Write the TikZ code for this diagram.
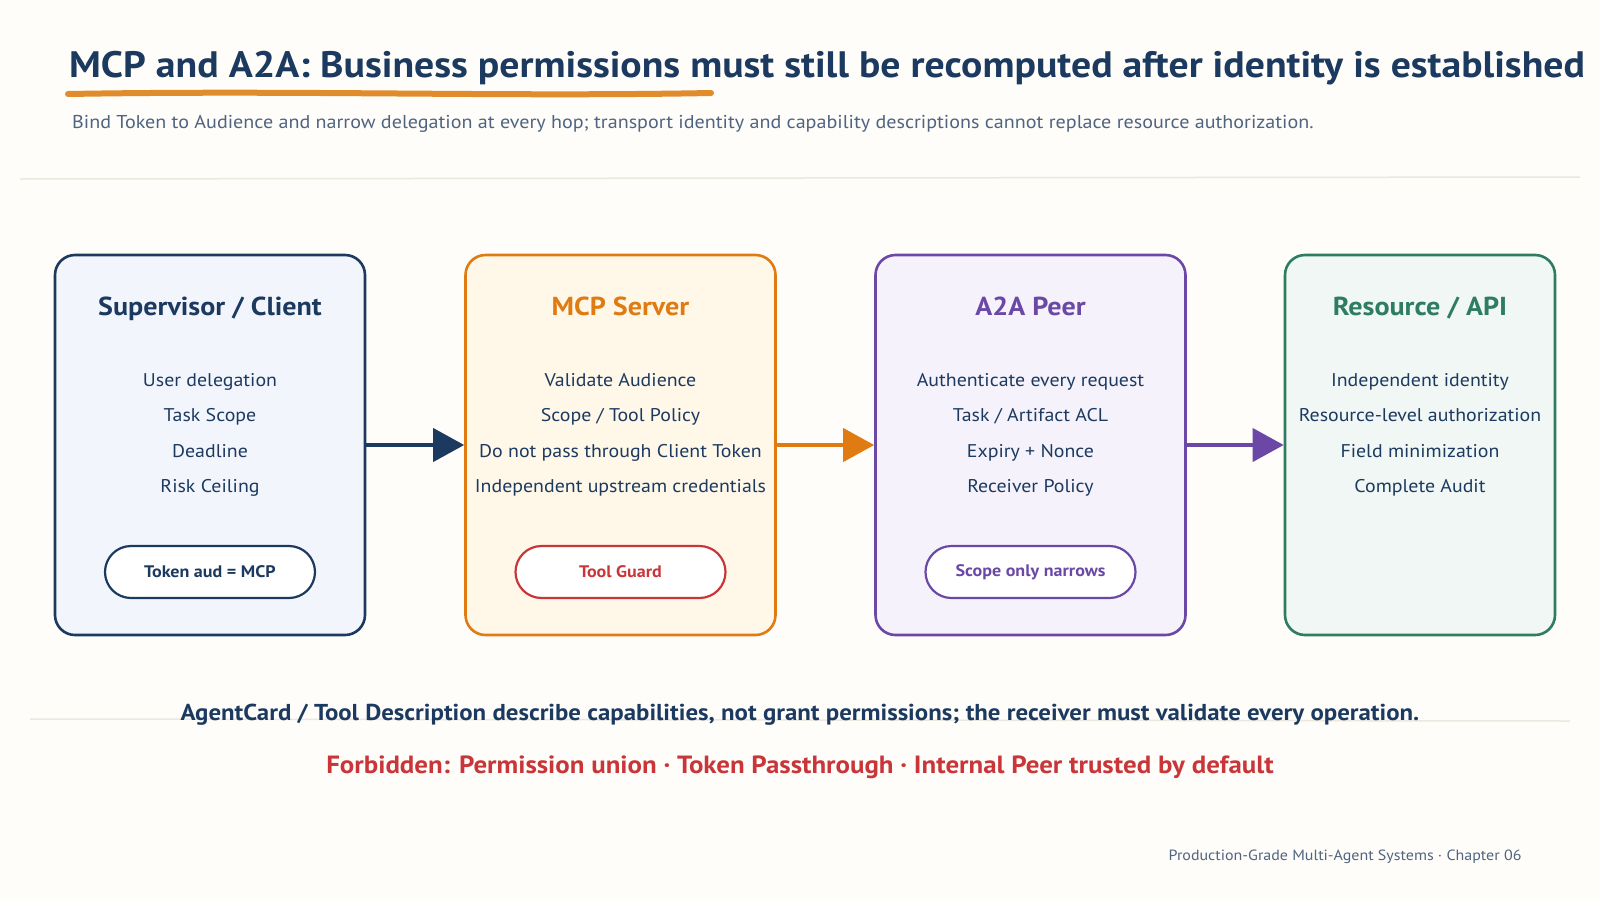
\documentclass[tikz,border=0pt]{standalone}
\usepackage{fontspec}
\setmainfont[FakeStretch=1.08]{PT Sans}
\usetikzlibrary{arrows.meta}
\definecolor{bg}{HTML}{FFFDF9}
\definecolor{navy}{HTML}{1C3A60}
\definecolor{sub}{HTML}{4F6480}
\definecolor{orng}{HTML}{E07B12}
\definecolor{ulin}{HTML}{E08C2C}
\definecolor{purp}{HTML}{6B48A6}
\definecolor{grn}{HTML}{2E7C62}
\definecolor{redc}{HTML}{C9363A}
\definecolor{fblue}{HTML}{F2F6FC}
\definecolor{forng}{HTML}{FFF7E8}
\definecolor{fpurp}{HTML}{F5F2FB}
\definecolor{fgrn}{HTML}{F0F7F4}
\definecolor{rule}{HTML}{ECE8E0}
\tikzset{
  card/.style={draw=#1, line width=2.6pt, rounded corners=20pt, minimum height=380pt, inner sep=0pt},
  head/.style={font=\fontsize{26}{30}\selectfont\bfseries, text=#1, anchor=base, inner sep=0pt},
  item/.style={font=\fontsize{18.4}{22}\selectfont, text=navy, anchor=base, inner sep=0pt},
  pill/.style={draw=#1, fill=white, line width=2.2pt, rounded corners=26pt, minimum width=210pt, minimum height=52pt, font=\fontsize{16.7}{19}\selectfont\bfseries},
  flow/.style={line width=4pt, draw=#1, -{Triangle[length=31pt,width=33pt]}},
}
\begin{document}
\begin{tikzpicture}[x=1pt,y=-1pt]
\fill[bg] (0,0) rectangle (1600,900);
\useasboundingbox (0,0) rectangle (1600,900);

% title
\node[anchor=base west, font=\fontsize{36.8}{42}\selectfont\bfseries, text=navy, inner sep=0pt] (title) at (69,77) {MCP and A2A: Business permissions must still be recomputed after identity is established};
\draw[ulin, line width=6pt, line cap=round] (68,94) .. controls (300,90) and (500,97) .. (711,93);
\node[anchor=base west, font=\fontsize{18.6}{22}\selectfont, text=sub, inner sep=0pt] (subt) at (72,128) {Bind Token to Audience and narrow delegation at every hop; transport identity and capability descriptions cannot replace resource authorization.};
\draw[rule, line width=1.5pt] (20,179) -- (1580,177);

% cards
\node[card=navy, fill=fblue, minimum width=310pt] (c1) at (210,445) {};
\node[card=orng, fill=forng, minimum width=310pt] (c2) at (620.5,445) {};
\node[card=purp, fill=fpurp, minimum width=310pt] (c3) at (1030.5,445) {};
\node[card=grn, fill=fgrn, minimum width=270pt] (c4) at (1420,445) {};

% headings
\node[head=navy] (h1) at (210,315) {Supervisor / Client};
\node[head=orng] (h2) at (620.5,315) {MCP Server};
\node[head=purp] (h3) at (1030.5,315) {A2A Peer};
\node[head=grn] (h4) at (1420,315) {Resource / API};

% items
\node[item] (a1) at (210,386) {User delegation};
\node[item] (a2) at (210,421) {Task Scope};
\node[item] (a3) at (210,457) {Deadline};
\node[item] (a4) at (210,492) {Risk Ceiling};

\node[item] (b1) at (620.5,386) {Validate Audience};
\node[item] (b2) at (620.5,421) {Scope / Tool Policy};
\node[item] (b3) at (620.5,457) {Do not pass through Client Token};
\node[item] (b4) at (620.5,492) {Independent upstream credentials};

\node[item] (d1) at (1030.5,386) {Authenticate every request};
\node[item] (d2) at (1030.5,421) {Task / Artifact ACL};
\node[item] (d3) at (1030.5,457) {Expiry + Nonce};
\node[item] (d4) at (1030.5,492) {Receiver Policy};

\node[item] (e1) at (1420,386) {Independent identity};
\node[item] (e2) at (1420,421) {Resource-level authorization};
\node[item] (e3) at (1420,457) {Field minimization};
\node[item] (e4) at (1420,492) {Complete Audit};

% pills
\node[pill=navy, text=navy] (p1) at (210,572) {Token aud = MCP};
\node[pill=redc, text=redc] (p2) at (620.5,572) {Tool Guard};
\node[pill=purp, text=purp] (p3) at (1030.5,572) {Scope only narrows};

% arrows
\draw[flow=navy] (c1.east) -- (c2.west);
\draw[flow=orng] (c2.east) -- (c3.west);
\draw[flow=purp] (c3.east) -- (c4.west);

% bottom
\draw[rule, line width=1.5pt] (30,719) -- (1570,721);
\node[font=\fontsize{23}{27}\selectfont\bfseries, text=navy] (note) at (800,715) {AgentCard / Tool Description describe capabilities, not grant permissions; the receiver must validate every operation.};
\node[font=\fontsize{24.9}{29}\selectfont\bfseries, text=redc] (forb) at (800,767) {Forbidden: Permission union · Token Passthrough · Internal Peer trusted by default};
\node[anchor=east, font=\fontsize{14.8}{17}\selectfont, text=sub] (foot) at (1525,857) {Production-Grade Multi-Agent Systems · Chapter 06};
\end{tikzpicture}
\end{document}
